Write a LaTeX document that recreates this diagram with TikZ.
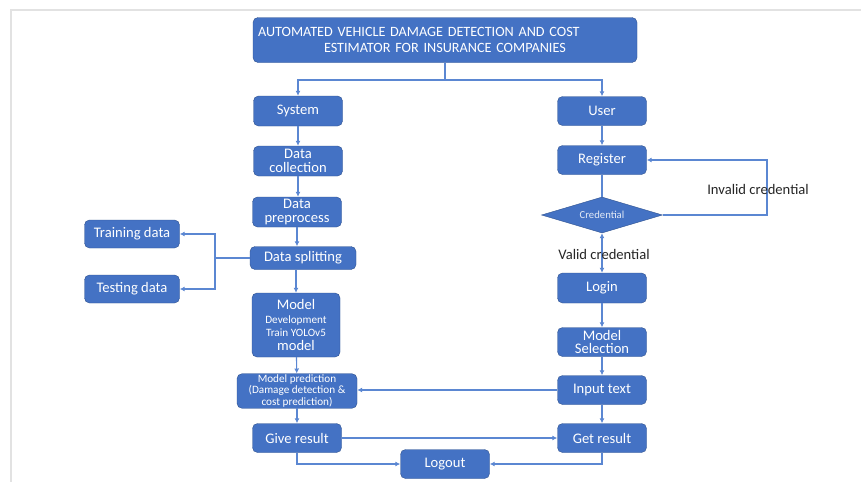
\documentclass[tikz,border=0pt]{standalone}
\usepackage{fontspec}
\setmainfont{Carlito}
\usetikzlibrary{arrows.meta,shapes.geometric}
\definecolor{boxblue}{HTML}{4472C4}
\definecolor{boxline}{HTML}{2F528F}
\definecolor{linkblue}{HTML}{5B87D2}
\definecolor{framegrey}{HTML}{E2E2E2}
\newcommand{\bigtxt}{\fontsize{14.6}{16.5}\selectfont}
\newcommand{\smalltxt}{\fontsize{11.2}{12.5}\selectfont}
\begin{document}
\begin{tikzpicture}[x=1pt,y=-1pt,>={Latex[length=5pt,width=5pt]},
	box/.style={draw=boxline,fill=boxblue,rounded corners=5pt,text=white,align=center,
		inner sep=1pt,minimum width=89pt,minimum height=30pt,font=\bigtxt},
	link/.style={draw=linkblue,line width=1.1pt},
	decision/.style={diamond,draw=boxline,fill=boxblue,inner sep=0pt,aspect=3.36,
		minimum width=121pt,minimum height=36pt,text=white!85!boxblue,font=\fontsize{10.7}{12}\selectfont},
	remark/.style={text=black!85,font=\bigtxt}]
	\useasboundingbox (0,0) rectangle (861,482);
	\fill[white] (0,0) rectangle (861,482);
	\draw[framegrey,line width=2pt] (11,482) -- (11,10) -- (861,10);
	
	\node[box,minimum width=384pt,minimum height=45pt,text width=374pt,align=left,
		font=\fontsize{14.2}{15.5}\selectfont] (T) at(445,40)
		{AUTOMATED VEHICLE DAMAGE DETECTION AND COST\\\hspace*{66pt}ESTIMATOR FOR INSURANCE COMPANIES};
	
	\node[box] (SY) at(298,111) {System};
	\node[box] (DC) at(298,161) {Data\\[-2pt]collection};
	\node[box] (DP) at(297,212) {Data\\[-2pt]preprocess};
	\node[box,minimum width=106pt,minimum height=23pt] (DS) at(303,258) {Data splitting};
	\node[box,minimum width=95pt,minimum height=28pt] (TR) at(132,234) {Training data};
	\node[box,minimum width=95pt,minimum height=28pt] (TE) at(132,289) {Testing data};
	\node[box,minimum width=88pt,minimum height=64pt] (MD) at(296,325)
		{Model\\[-3pt]{\smalltxt Development}\\[-3pt]{\smalltxt Train YOLOv5}\\[-3pt]model};
	\node[box,minimum width=120pt,minimum height=34pt,font=\smalltxt] (MP) at(297,391)
		{Model prediction\\[-1pt](Damage detection \&\\[-1pt]cost prediction)};
	\node[box,minimum height=29pt] (GR) at(297,438) {Give result};
	\node[box,minimum height=29pt] (LO) at(445,464) {Logout};
	
	\node[box,minimum height=29pt] (U) at(602,111) {User};
	\node[box,minimum height=29pt] (RG) at(602,160) {Register};
	\node[decision] (CR) at(602,215) {Credential};
	\node[box,minimum height=30pt] (LG) at(602,288) {Login};
	\node[box,minimum height=29pt] (MS) at(602,342) {Model\\[-3pt]Selection};
	\node[box,minimum height=29pt] (IT) at(602,390) {Input text};
	\node[box,minimum height=29pt] (GE) at(602,438) {Get result};
	
	\coordinate (TJ) at(445,80);
	\coordinate (SP) at(215,258);
	\coordinate (IV) at(767,215);
	
	\draw[link] (T)to(TJ);
	\draw[link,->] (TJ)-|(SY);
	\draw[link,->] (TJ)-|(U);
	
	\draw[link,->] (SY)to(DC);
	\draw[link,->] (DC.south)to(DC.south|-DP.north);
	\draw[link,->] (DP.south)to(DP.south|-DS.north);
	\draw[link] (DS)to(SP);
	\draw[link,->] (SP)|-(TR);
	\draw[link,->] (SP)|-(TE);
	\draw[link,->] (DS.south-|MD.north)to(MD.north);
	\draw[link,->] (MD)to(MP);
	\draw[link,->] (MP)to(GR);
	\draw[link,->] (GR)|-(LO);
	\draw[link,->] (GR)to(GR-|GE.west);
	
	\draw[link,->] (U)to(RG);
	\draw[link] (RG)to(CR);
	\draw[link,->] (CR.east)--(IV)|-(RG.east);
	\node[remark] (IC) at(758,189) {Invalid credential};
	\draw[link,<->] (CR.south)to(LG);
	\node[remark] (VC) at(604,254) {Valid credential};
	\draw[link,->] (LG)to(MS);
	\draw[link,->] (MS)to(IT);
	\draw[link,->] (IT.west)to(IT.west-|MP.east);
	\draw[link,->] (IT)to(GE);
	\draw[link,->] (GE)|-(LO);
\end{tikzpicture}
\end{document}
